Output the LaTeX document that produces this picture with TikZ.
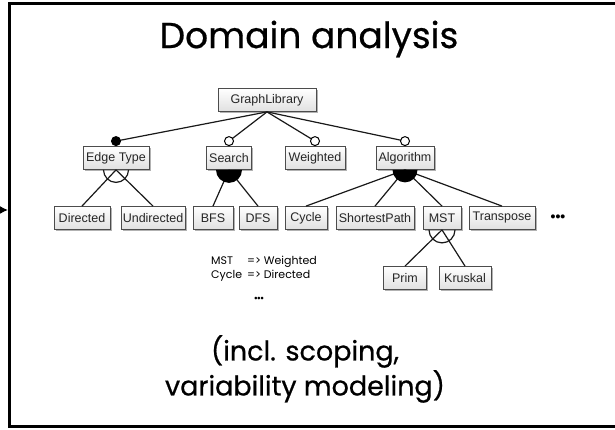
\documentclass[tikz,border=0pt]{standalone}
\usepackage{fontspec}
\setmainfont{Liberation Sans}
\newfontfamily\futfont[FakeBold=0.6]{Poppins}
\newfontfamily\consfont{Poppins}
\usetikzlibrary{shadows,arrows.meta}

\begin{document}
\begin{tikzpicture}[x=1pt,y=1pt,
    feat/.style={draw=black!70,line width=0.8pt,top color=white,bottom color=black!12,
      minimum height=23pt,inner sep=1pt,font=\fontsize{12.5}{13}\selectfont,text=black!85,
      drop shadow={shadow xshift=1.5pt,shadow yshift=-1.5pt,opacity=0.3,fill=black}},
    conn/.style={line width=1.2pt,black!90},
    mand/.style={draw=black,fill=black,line width=1pt},
    opt/.style={draw=black,fill=white,line width=1pt}]
        \useasboundingbox (0,0) rectangle (615,430);
        \draw[line width=3pt] (9,3) rectangle (640,426);
        \coordinate (src) at (-8,220);
        \coordinate (frm) at (8,220);
        \draw[line width=1.5pt,-{Latex[length=8pt,width=8pt]}] (src) -- (frm);

        \node[font=\futfont\fontsize{36}{40}\selectfont] (title) at (309,391) {Domain analysis};

        \node[feat,minimum width=98pt] (gl) at (267,330) {GraphLibrary};
        \node[feat,minimum width=66pt] (et) at (116,272) {Edge Type};
        \node[feat,minimum width=45pt] (srch) at (229,272) {Search};
        \node[feat,minimum width=60pt] (wt) at (315,272) {Weighted};
        \node[feat,minimum width=58pt] (alg) at (405,272) {Algorithm};
        \node[feat,minimum width=56pt] (dir) at (82,212) {Directed};
        \node[feat,minimum width=64pt] (undir) at (153,212) {Undirected};
        \node[feat,minimum width=40pt] (bfs) at (213,212) {BFS};
        \node[feat,minimum width=38pt] (dfs) at (258,212) {DFS};
        \node[feat,minimum width=42pt] (cyc) at (306,212) {Cycle};
        \node[feat,minimum width=78pt] (sp) at (375,212) {ShortestPath};
        \node[feat,minimum width=38pt] (mst) at (442,212) {MST};
        \node[feat,minimum width=66pt] (tr) at (502,212) {Transpose};
        \node[font=\fontsize{14}{14}\selectfont\bfseries] (more) at (558,212) {•••};
        \node[feat,minimum width=43pt] (prim) at (405,152) {Prim};
        \node[feat,minimum width=52pt] (krus) at (465,152) {Kruskal};

        \draw[conn] (gl.south) -- ([yshift=5pt]et.north);
        \draw[conn] (gl.south) -- ([yshift=5pt]srch.north);
        \draw[conn] (gl.south) -- ([yshift=5pt]wt.north);
        \draw[conn] (gl.south) -- ([yshift=5pt]alg.north);
        \draw[mand] ([yshift=5pt]et.north) circle (4.5pt);
        \draw[opt] ([yshift=5pt]srch.north) circle (4.5pt);
        \draw[opt] ([yshift=5pt]wt.north) circle (4.5pt);
        \draw[opt] ([yshift=5pt]alg.north) circle (4.5pt);

        \foreach \c in {dir,undir} \draw[conn] (et.south) -- (\c.north);
        \draw[conn] ([xshift=12.5pt]et.south) arc (0:-180:12.5pt);
        \foreach \c in {bfs,dfs} \draw[conn] (srch.south) -- (\c.north);
        \fill ([xshift=13pt]srch.south) arc (0:-180:13pt) -- cycle;
        \foreach \c in {cyc,sp,mst,tr} \draw[conn] (alg.south) -- (\c.north);
        \fill ([xshift=12.5pt]alg.south) arc (0:-180:12.5pt) -- cycle;
        \foreach \c in {prim,krus} \draw[conn] (mst.south) -- (\c.north);
        \draw[conn] ([xshift=13pt]mst.south) arc (0:-180:13pt);

        \node[font=\consfont\fontsize{11}{14}\selectfont,anchor=north west,inner sep=0pt] (cons) at (211,175)
          {\begin{tabular}{@{}l@{\hspace{5pt}}l@{}}MST & => Weighted\\ Cycle & => Directed\end{tabular}};
        \node[font=\fontsize{9}{9}\selectfont\bfseries] (cmore) at (259,131) {•••};

        \node[font=\futfont\fontsize{27}{35}\selectfont,align=center] (note) at (305,61) {(incl. scoping,\\variability modeling)};
    \end{tikzpicture}
\end{document}
